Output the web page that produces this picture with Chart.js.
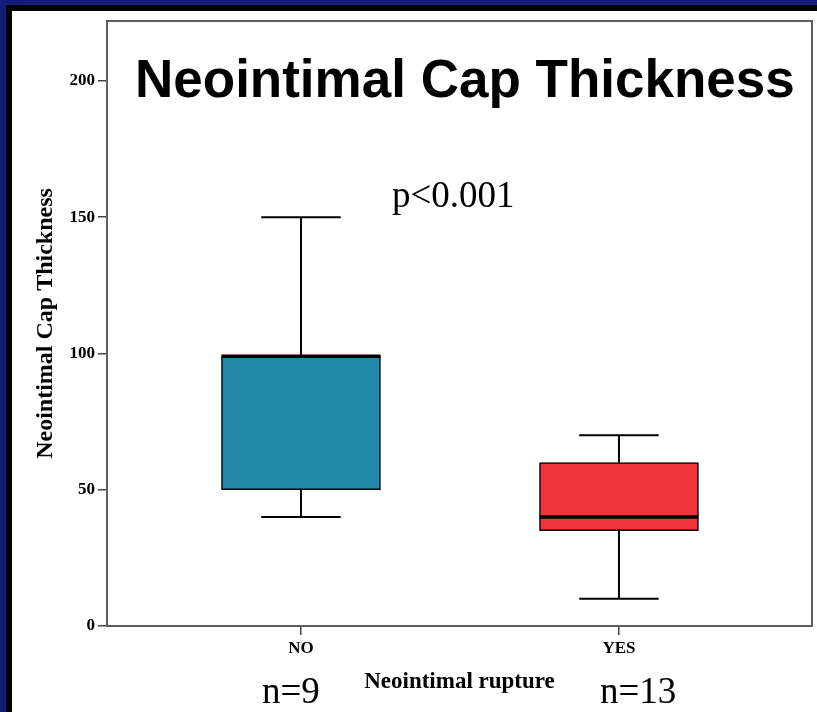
<!DOCTYPE html>
<html><head><meta charset="utf-8">
<script src="https://cdn.jsdelivr.net/npm/chart.js@4"></script>
<style>html,body{margin:0;padding:0;background:#fff;overflow:hidden}#wrap{position:relative;width:817px;height:712px}</style>
</head><body><div id="wrap"><canvas id="c" width="817" height="712"></canvas></div>
<script>
// ---- data ----
const categories = ['NO', 'YES'];
const whiskerMin = [40, 10];
const quartile1 = [50, 35];
const medians = [99, 40];
const quartile3 = [99, 60];
const whiskerMax = [150, 70];
const sampleSizes = [9, 13];
const yTickValues = [0, 50, 100, 150, 200];
const chartTitle = 'Neointimal Cap Thickness';
const pValueText = 'p<0.001';
const yAxisTitle = 'Neointimal Cap Thickness';
const xAxisTitle = 'Neointimal rupture';

// ---- styles ----
const boxColors = ['#2389AA', '#EF333A'];
const navy = '#101E78';

const framePlugin = {
  id: 'frame',
  beforeDraw(chart) {
    const ctx = chart.ctx;
    ctx.save();
    ctx.fillStyle = '#ffffff';
    ctx.fillRect(0, 0, chart.width, chart.height);
    ctx.fillStyle = navy;
    ctx.fillRect(0, 0, chart.width, 5);
    ctx.fillRect(0, 0, 6, chart.height);
    ctx.fillStyle = '#000000';
    ctx.fillRect(6, 5, chart.width - 6, 6);
    ctx.fillRect(6, 5, 6, chart.height - 5);
    ctx.restore();
  }
};

const boxPlugin = {
  id: 'boxWhiskers',
  afterDatasetsDraw(chart) {
    const ctx = chart.ctx;
    const y = chart.scales.y;
    const meta = chart.getDatasetMeta(0);
    ctx.save();
    ctx.strokeStyle = '#000';
    meta.data.forEach((bar, i) => {
      const cx = bar.x;
      const half = bar.width / 2;
      ctx.lineWidth = 2;
      ctx.beginPath();
      ctx.moveTo(cx, y.getPixelForValue(quartile3[i]));
      ctx.lineTo(cx, y.getPixelForValue(whiskerMax[i]));
      ctx.moveTo(cx, y.getPixelForValue(quartile1[i]));
      ctx.lineTo(cx, y.getPixelForValue(whiskerMin[i]));
      ctx.moveTo(cx - half / 2, y.getPixelForValue(whiskerMax[i]));
      ctx.lineTo(cx + half / 2, y.getPixelForValue(whiskerMax[i]));
      ctx.moveTo(cx - half / 2, y.getPixelForValue(whiskerMin[i]));
      ctx.lineTo(cx + half / 2, y.getPixelForValue(whiskerMin[i]));
      ctx.stroke();
      ctx.lineWidth = 3.5;
      ctx.beginPath();
      ctx.moveTo(cx - half, y.getPixelForValue(medians[i]));
      ctx.lineTo(cx + half, y.getPixelForValue(medians[i]));
      ctx.stroke();
    });
    ctx.restore();
  },
  afterDraw(chart) {
    const ctx = chart.ctx;
    const a = chart.chartArea;
    ctx.save();
    ctx.strokeStyle = '#5e5e5e';
    ctx.lineWidth = 2;
    ctx.strokeRect(a.left, a.top, a.right - a.left, a.bottom - a.top);
    ctx.fillStyle = '#000';
    ctx.textBaseline = 'alphabetic';
    ctx.textAlign = 'left';
    ctx.font = 'bold 53px "Liberation Sans", Arial, sans-serif';
    ctx.fillText(chartTitle, 135, 97);
    ctx.font = '37px "Liberation Serif", "Times New Roman", serif';
    ctx.fillText(pValueText, 392, 207);
    ctx.fillText('n=' + sampleSizes[0], 262, 703);
    ctx.fillText('n=' + sampleSizes[1], 600, 703);
    ctx.restore();
  }
};

const tickFont = { family: '"Liberation Serif", "Times New Roman", serif', size: 17, weight: 'bold' };

new Chart(document.getElementById('c'), {
  type: 'bar',
  data: {
    datasets: [{
      data: categories.map((c, i) => ({ x: i + 1, y: [quartile1[i], quartile3[i]] })),
      backgroundColor: boxColors,
      borderColor: '#000',
      borderWidth: 1.5,
      borderSkipped: false,
      barThickness: 159
    }]
  },
  options: {
    responsive: false,
    animation: false,
    layout: { padding: { top: 21, right: 5, bottom: 0, left: 0 } },
    plugins: { legend: { display: false }, tooltip: { enabled: false } },
    scales: {
      x: {
        type: 'linear',
        min: 0.39,
        max: 2.607,
        offset: false,
        grid: { offset: false, drawOnChartArea: false, drawTicks: true, tickLength: 9, color: '#444', lineWidth: 1.5 },
        border: { display: false },
        afterBuildTicks(scale) { scale.ticks = categories.map((c, i) => ({ value: i + 1 })); },
        afterFit(scale) { scale.height = 86; },
        ticks: { color: '#000', font: tickFont, padding: 3, maxRotation: 0, callback: (v) => categories[v - 1] },
        title: { display: true, text: xAxisTitle, color: '#000', padding: { top: 0, bottom: 16 },
          font: { family: '"Liberation Serif", "Times New Roman", serif', size: 23, weight: 'bold' } }
      },
      y: {
        min: 0,
        max: 222,
        grid: { drawOnChartArea: false, drawTicks: true, tickLength: 9, color: '#444', lineWidth: 1.5 },
        border: { display: false },
        afterBuildTicks(scale) { scale.ticks = yTickValues.map(v => ({ value: v })); },
        afterFit(scale) { scale.width = 107; },
        ticks: { color: '#000', font: tickFont, padding: 3 },
        title: { display: true, text: yAxisTitle, color: '#000', padding: { top: 31, bottom: 0 },
          font: { family: '"Liberation Serif", "Times New Roman", serif', size: 24, weight: 'bold' } }
      }
    }
  },
  plugins: [framePlugin, boxPlugin]
});
</script></body></html>
